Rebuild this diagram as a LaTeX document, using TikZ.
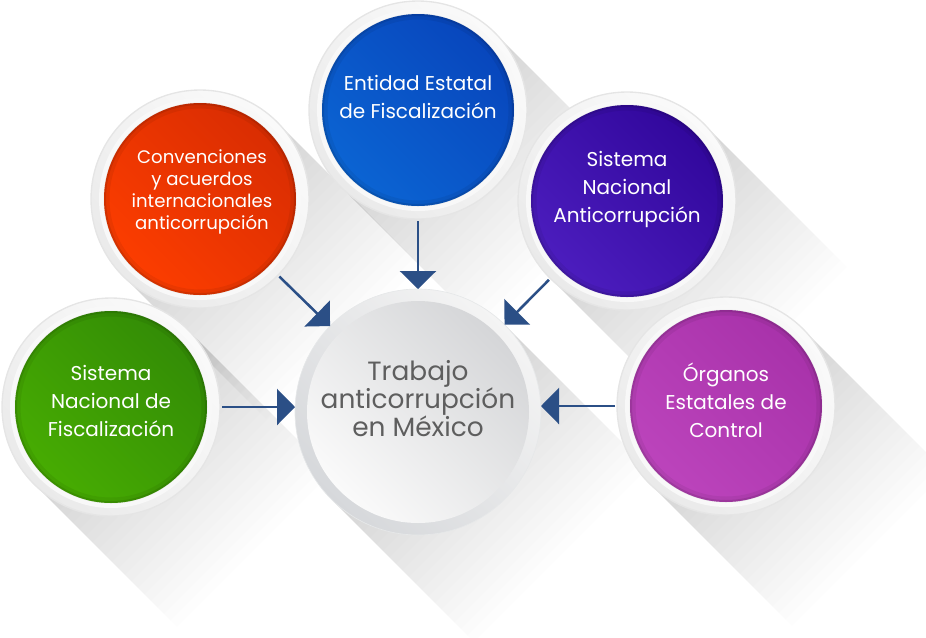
\documentclass[tikz,border=0pt]{standalone}
\usepackage{fontspec}
\setmainfont{Poppins}
\usetikzlibrary{arrows.meta,calc}
\definecolor{arrowblue}{HTML}{2B4F86}
\definecolor{cBlueA}{HTML}{0846BC}
\definecolor{cBlueB}{HTML}{0B64D3}
\definecolor{cOrA}{HTML}{D92D02}
\definecolor{cOrB}{HTML}{FC3D00}
\definecolor{cPuA}{HTML}{31079C}
\definecolor{cPuB}{HTML}{4C1DBE}
\definecolor{cGrA}{HTML}{338C06}
\definecolor{cGrB}{HTML}{47AC02}
\definecolor{cMaA}{HTML}{A832AA}
\definecolor{cMaB}{HTML}{BC44BC}
\definecolor{rimEdge}{HTML}{E5E5E5}
\definecolor{rimA}{HTML}{FAFAFA}
\definecolor{rimB}{HTML}{EAEAEA}
\definecolor{rimIn}{HTML}{F8F8F8}
\definecolor{ccRimA}{HTML}{F4F4F4}
\definecolor{ccRimB}{HTML}{D6D8DB}
\definecolor{ccA}{HTML}{D5D6D8}
\definecolor{ccB}{HTML}{FAFAFA}
\definecolor{txtgray}{HTML}{5E5E5E}
\newcommand\lshadow[3]{%
  \foreach \k in {1,...,22}{%
    \fill[black,opacity=0.0095] ({#1+0.7071*#3},{#2-0.7071*#3}) -- ++({\k*6.5},{\k*6.5})
      -- ++({-1.4142*#3},{1.4142*#3}) -- ({#1-0.7071*#3},{#2+0.7071*#3}) -- cycle;}}
\newcommand\bubbledisk[4]{%
  \fill[rimIn] (#1,#2) circle (101);
  \shade[left color=#3,right color=#4,shading angle=-45] (#1,#2) circle (96);
  \draw[black,opacity=0.06,line width=4.5pt] (#1,#2) circle (93.5);
  \draw[black,opacity=0.10,line width=1.5pt] (#1,#2) circle (95);}
\tikzset{
  rimcircle/.style={circle,inner sep=0pt,outer sep=0pt,minimum size=163.5pt,
    draw=rimEdge,line width=1pt,left color=rimA,right color=rimB,shading angle=-45},
  ccrim/.style={circle,inner sep=0pt,outer sep=0pt,minimum size=184.5pt,
    draw=ccRimB!60!white,line width=0.5pt,left color=ccRimA,right color=ccRimB,shading angle=-45},
  stxt/.style={align=center,text=white,font=\fontsize{15pt}{21pt}\selectfont,inner sep=0pt},
  otxt/.style={align=center,text=white,font=\fontsize{13.6pt}{16.5pt}\selectfont,inner sep=0pt},
  ctxt/.style={align=center,text=txtgray,font=\fontsize{19.8pt}{21pt}\selectfont,inner sep=0pt},
  arr/.style={draw=arrowblue,line width=1.9pt,shorten <=1.5pt,
    -{Triangle[width=27pt,length=13.5pt]}}
}
\begin{document}
\begin{tikzpicture}[x=0.75pt,y=-0.75pt]
\useasboundingbox (0,0) rectangle (926,637);
\clip (0,0) rectangle (926,637);
% long shadows
\lshadow{418}{412}{123}
\lshadow{418}{110}{109}
\lshadow{200}{199}{109}
\lshadow{627}{201}{109}
\lshadow{111}{407}{109}
\lshadow{726}{406}{109}
% rims
\node[rimcircle] (blue) at (418,110) {};
\node[rimcircle] (orange) at (200,199) {};
\node[rimcircle] (purple) at (627,201) {};
\node[rimcircle] (green) at (111,407) {};
\node[rimcircle] (magenta) at (726,406) {};
\node[ccrim] (cc) at (418,412) {};
% disks
\bubbledisk{418}{110}{cBlueA}{cBlueB}
\bubbledisk{200}{199}{cOrA}{cOrB}
\bubbledisk{627}{201}{cPuA}{cPuB}
\bubbledisk{111}{407}{cGrA}{cGrB}
\bubbledisk{726}{406}{cMaA}{cMaB}
\shade[left color=ccA,right color=ccB,shading angle=-45] (418,412) circle (111);
% texts
\node[stxt] (tblue) at (418,97) {Entidad Estatal\\de Fiscalización};
\node[otxt] (torange) at (202,192) {Convenciones\\y acuerdos\\internacionales\\anticorrupción};
\node[stxt] (tpurple) at (627,189) {Sistema\\Nacional\\Anticorrupción};
\node[stxt] (tgreen) at (111,401) {Sistema\\Nacional de\\Fiscalización};
\node[stxt] (tmagenta) at (726,400) {Órganos\\Estatales de\\Control};
\node[ctxt] (tcc) at (418,399) {Trabajo\\anticorrupción\\en México};
% arrows
\draw[arr] (blue) -- (cc);
\draw[arr] (orange) -- (cc);
\draw[arr] (purple) -- (cc);
\draw[arr] (green.east) -- (green.east -| cc.west);
\draw[arr] (magenta.west) -- (magenta.west -| cc.east);
\end{tikzpicture}
\end{document}
